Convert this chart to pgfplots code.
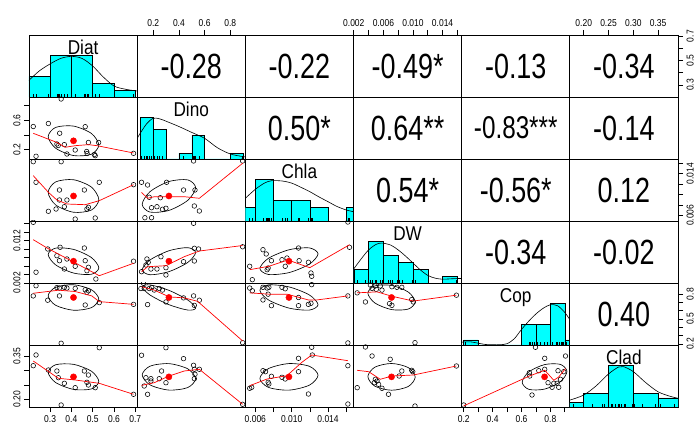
\documentclass[border=0pt]{standalone}
\usepackage{fontspec}
\setmainfont{Liberation Sans}
\usepackage{graphicx}
\usepackage{pgfplots}
\pgfplotsset{compat=1.18}
\definecolor{histc}{RGB}{0,255,255}
\definecolor{rred}{RGB}{255,0,0}
\newcommand\tk[1]{\scalebox{0.85}[1]{#1}}
\newcommand\cor[1]{\scalebox{0.77}[1]{\fontsize{35}{35}\selectfont #1}}
\newcommand\vn[1]{\scalebox{0.86}[1]{\fontsize{20}{20}\selectfont #1}}
\pgfplotsset{
  panel/.style={anchor=north west, width=108.17pt, height=62pt, scale only axis,
    xtick=\empty, ytick=\empty, clip marker paths=true, scaled ticks=false,
    axis line style={black, line width=0.75pt},
    tick style={black, line width=0.6pt}, tick align=outside, major tick length=5pt,
    ticklabel style={font=\fontsize{10}{10}\selectfont}},
  xDiat/.style={xmin=0.201,xmax=0.709}, yDiat/.style={ymin=0.201,ymax=0.709},
  xDino/.style={xmin=0.075,xmax=0.917}, yDino/.style={ymin=0.075,ymax=0.917},
  xChla/.style={xmin=0.0049,xmax=0.0168}, yChla/.style={ymin=0.0049,ymax=0.0168},
  xDW/.style={xmin=0.00196,xmax=0.01658}, yDW/.style={ymin=0.00196,ymax=0.01658},
  xCop/.style={xmin=0.186,xmax=0.935}, yCop/.style={ymin=0.186,ymax=0.935},
  xClad/.style={xmin=0.172,xmax=0.390}, yClad/.style={ymin=0.172,ymax=0.390},
  topx/.style={xtick pos=upper, xticklabel pos=upper},
  boty/.style={xtick pos=lower, xticklabel pos=lower},
  lefty/.style={ytick pos=left, yticklabel pos=left, yticklabel style={rotate=90, anchor=south}},
  righty/.style={ytick pos=right, yticklabel pos=right, yticklabel style={rotate=90, anchor=north}},
  pts/.style={only marks, mark=o, mark size=2.3pt, black, mark options={line width=0.55pt}},
  mn/.style={only marks, mark=*, mark size=3.1pt, rred},
  lo/.style={rred, line width=0.7pt, no markers},
  el/.style={black, line width=0.65pt, no markers, smooth cycle},
  hb/.style={ybar interval, fill=histc, draw=black, line width=0.5pt},
  dn/.style={black, line width=0.6pt, smooth, no markers},
  rg/.style={ycomb, black, line width=0.4pt, no markers},
}
\begin{document}
\begin{tikzpicture}
\useasboundingbox (0,0) rectangle (699pt,-435pt);
% ================= ROW 1
\begin{axis}[panel, at={(29pt,-35pt)}, xDiat, ymin=0, ymax=9]
\addplot[hb] coordinates {(0.2,3)(0.3,6)(0.4,6)(0.5,2)(0.6,1)(0.7,0)};
\addplot[dn] coordinates {(0.20,2.4)(0.25,3.8)(0.30,4.8)(0.35,5.6)(0.40,5.9)(0.45,5.6)(0.50,4.5)(0.55,2.9)(0.60,1.6)(0.65,1.15)(0.70,0.9)(0.72,0.85)};
\addplot[rg] coordinates {(0.221,0.45)(0.234,0.45)(0.289,0.45)(0.292,0.45)(0.332,0.45)(0.338,0.45)(0.344,0.45)(0.352,0.45)(0.367,0.45)(0.379,0.45)(0.418,0.45)(0.461,0.45)(0.465,0.45)(0.473,0.45)(0.48,0.45)(0.512,0.45)(0.531,0.45)(0.692,0.45)};
\node[anchor=base] at (rel axis cs:0.5,0.68) {\vn{Diat}};
\end{axis}
\begin{axis}[panel, at={(137.17pt,-35pt)}, xDino, yDiat, topx,
  xtick={0.2,0.4,0.6,0.8}, xticklabels={\tk{0.2},\tk{0.4},\tk{0.6},\tk{0.8}}]
\node at (rel axis cs:0.5,0.5) {\cor{-0.28}};
\end{axis}
\begin{axis}[panel, at={(245.33pt,-35pt)}, xChla, yDiat]
\node at (rel axis cs:0.5,0.5) {\cor{-0.22}};
\end{axis}
\begin{axis}[panel, at={(353.5pt,-35pt)}, xDW, yDiat, topx,
  xtick={0.002,0.004,0.006,0.008,0.010,0.012,0.014,0.016},
  xticklabels={\tk{0.002},,\tk{0.006},,\tk{0.010},,\tk{0.014},}]
\node at (rel axis cs:0.5,0.5) {\cor{-0.49*}};
\end{axis}
\begin{axis}[panel, at={(461.67pt,-35pt)}, xCop, yDiat]
\node at (rel axis cs:0.5,0.5) {\cor{-0.13}};
\end{axis}
\begin{axis}[panel, at={(569.83pt,-35pt)}, xClad, yDiat, topx, righty,
  xtick={0.20,0.25,0.30,0.35}, xticklabels={\tk{0.20},\tk{0.25},\tk{0.30},\tk{0.35}},
  ytick={0.3,0.4,0.5,0.6,0.7}, yticklabels={\tk{0.3},,\tk{0.5},,\tk{0.7}}]
\node at (rel axis cs:0.5,0.5) {\cor{-0.34}};
\end{axis}
% ================= ROW 2
\begin{axis}[panel, at={(29pt,-97pt)}, xDiat, yDino, lefty,
  ytick={0.2,0.4,0.6,0.8}, yticklabels={\tk{0.2},,\tk{0.6},}]
\addplot[pts] coordinates {(0.352,0.89)(0.221,0.516)(0.292,0.557)(0.345,0.425)(0.465,0.514)(0.332,0.279)(0.338,0.258)(0.528,0.299)(0.48,0.299)(0.418,0.197)(0.379,0.143)(0.472,0.177)(0.474,0.15)(0.508,0.136)(0.692,0.152)(0.234,0.112)(0.367,0.27)(0.512,0.12)};
\addplot[el] coordinates {(0.529,0.264)(0.494,0.422)(0.41,0.522)(0.326,0.504)(0.291,0.380)(0.326,0.222)(0.41,0.122)(0.494,0.140)};
\addplot[lo] coordinates {(0.221,0.424)(0.332,0.30)(0.371,0.234)(0.418,0.256)(0.48,0.27)(0.52,0.256)(0.692,0.157)};
\addplot[mn] coordinates {(0.41,0.322)};
\end{axis}
\begin{axis}[panel, at={(137.17pt,-97pt)}, xDino, ymin=0, ymax=10.5]
\addplot[hb] coordinates {(0.1,7)(0.2,5)(0.3,0)(0.4,1)(0.5,4)(0.6,0)(0.7,0)(0.8,1)(0.9,0)};
\addplot[dn] coordinates {(0.075,3.5)(0.1,4.4)(0.15,6.0)(0.2,6.9)(0.25,6.8)(0.3,6.4)(0.4,5.5)(0.5,4.5)(0.6,3.5)(0.7,1.9)(0.8,0.85)(0.9,0.4)(0.92,0.35)};
\addplot[rg] coordinates {(0.104,0.5)(0.11,0.5)(0.13,0.5)(0.143,0.5)(0.156,0.5)(0.169,0.5)(0.185,0.5)(0.208,0.5)(0.229,0.5)(0.247,0.5)(0.272,0.5)(0.299,0.5)(0.436,0.5)(0.514,0.5)(0.52,0.5)(0.525,0.5)(0.559,0.5)(0.896,0.5)};
\node[anchor=base] at (rel axis cs:0.5,0.68) {\vn{Dino}};
\end{axis}
\begin{axis}[panel, at={(245.33pt,-97pt)}, xChla, yDino]
\node at (rel axis cs:0.5,0.5) {\cor{0.50*}};
\end{axis}
\begin{axis}[panel, at={(353.5pt,-97pt)}, xDW, yDino]
\node at (rel axis cs:0.5,0.5) {\cor{0.64**}};
\end{axis}
\begin{axis}[panel, at={(461.67pt,-97pt)}, xCop, yDino]
\node at (rel axis cs:0.5,0.5) {\scalebox{0.9}{\cor{-0.83***}}};
\end{axis}
\begin{axis}[panel, at={(569.83pt,-97pt)}, xClad, yDino]
\node at (rel axis cs:0.5,0.5) {\cor{-0.14}};
\end{axis}
% ================= ROW 3
\begin{axis}[panel, at={(29pt,-159pt)}, xDiat, yChla]
\addplot[pts] coordinates {(0.221,0.01628)(0.352,0.01628)(0.234,0.01233)(0.531,0.01233)(0.344,0.01085)(0.461,0.01085)(0.379,0.00893)(0.344,0.00893)(0.48,0.00753)(0.473,0.0072)(0.367,0.00764)(0.328,0.0072)(0.292,0.00676)(0.418,0.00528)(0.512,0.00548)(0.692,0.01187)};
\addplot[el] coordinates {(0.529,0.00900)(0.494,0.01141)(0.41,0.01282)(0.326,0.01240)(0.291,0.01040)(0.326,0.00799)(0.41,0.00658)(0.494,0.00700)};
\addplot[lo] coordinates {(0.221,0.0136)(0.292,0.01041)(0.332,0.00893)(0.379,0.00816)(0.465,0.00803)(0.531,0.0088)(0.692,0.01187)};
\addplot[mn] coordinates {(0.41,0.0097)};
\end{axis}
\begin{axis}[panel, at={(137.17pt,-159pt)}, xDino, yChla]
\addplot[pts] coordinates {(0.514,0.01642)(0.109,0.01233)(0.156,0.01181)(0.304,0.01233)(0.436,0.01085)(0.525,0.01085)(0.169,0.00945)(0.255,0.00937)(0.187,0.00745)(0.229,0.00764)(0.272,0.00715)(0.299,0.00734)(0.52,0.00778)(0.559,0.00682)(0.135,0.00553)(0.187,0.00553)(0.896,0.01642)};
\addplot[el] coordinates {(0.530,0.01130)(0.469,0.01279)(0.322,0.01247)(0.175,0.01053)(0.114,0.00810)(0.175,0.00661)(0.322,0.00693)(0.469,0.00887)};
\addplot[lo] coordinates {(0.109,0.0104)(0.156,0.00926)(0.208,0.00956)(0.325,0.00956)(0.442,0.00956)(0.559,0.00926)(0.896,0.01598)};
\addplot[mn] coordinates {(0.322,0.0097)};
\end{axis}
\begin{axis}[panel, at={(245.33pt,-159pt)}, xChla, ymin=0, ymax=9]
\addplot[hb] coordinates {(0.004,2)(0.006,6)(0.008,3)(0.010,3)(0.012,2)(0.014,0)(0.016,2)(0.018,0)};
\addplot[dn] coordinates {(0.0049,3.3)(0.006,4.6)(0.007,5.5)(0.0078,5.85)(0.009,5.8)(0.010,5.5)(0.011,4.9)(0.012,4.25)(0.013,3.5)(0.014,2.8)(0.015,2.1)(0.016,1.6)(0.0168,1.35)};
\addplot[rg] coordinates {(0.00538,0.45)(0.00567,0.45)(0.00684,0.45)(0.0072,0.45)(0.0073,0.45)(0.00741,0.45)(0.00749,0.45)(0.00777,0.45)(0.00893,0.45)(0.00929,0.45)(0.00948,0.45)(0.01075,0.45)(0.01082,0.45)(0.01184,0.45)(0.0122,0.45)(0.01227,0.45)(0.01618,0.45)(0.01636,0.45)};
\node[anchor=base] at (rel axis cs:0.5,0.68) {\vn{Chla}};
\end{axis}
\begin{axis}[panel, at={(353.5pt,-159pt)}, xDW, yChla]
\node at (rel axis cs:0.5,0.5) {\cor{0.54*}};
\end{axis}
\begin{axis}[panel, at={(461.67pt,-159pt)}, xCop, yChla]
\node at (rel axis cs:0.5,0.5) {\cor{-0.56*}};
\end{axis}
\begin{axis}[panel, at={(569.83pt,-159pt)}, xClad, yChla, righty,
  ytick={0.006,0.008,0.010,0.012,0.014,0.016}, yticklabels={\tk{0.006},,,,\tk{0.014},}]
\node at (rel axis cs:0.5,0.5) {\cor{0.12}};
\end{axis}
% ================= ROW 4
\begin{axis}[panel, at={(29pt,-221pt)}, xDiat, yDW, lefty,
  ytick={0.002,0.004,0.006,0.008,0.010,0.012,0.014,0.016}, yticklabels={\tk{0.002},,,,,\tk{0.012},,}]
\addplot[pts] coordinates {(0.221,0.01627)(0.347,0.01038)(0.461,0.01021)(0.289,0.00998)(0.332,0.0084)(0.344,0.00722)(0.379,0.00762)(0.418,0.0059)(0.465,0.00722)(0.367,0.00526)(0.48,0.00566)(0.473,0.00486)(0.515,0.0029)(0.234,0.0045)(0.692,0.0071)};
\addplot[el] coordinates {(0.529,0.00553)(0.494,0.00796)(0.41,0.00989)(0.326,0.01018)(0.291,0.00867)(0.326,0.00624)(0.41,0.00431)(0.494,0.00402)};
\addplot[lo] coordinates {(0.221,0.01217)(0.292,0.01004)(0.418,0.0067)(0.531,0.00368)(0.692,0.00661)};
\addplot[mn] coordinates {(0.41,0.0071)};
\end{axis}
\begin{axis}[panel, at={(137.17pt,-221pt)}, xDino, yDW]
\addplot[pts] coordinates {(0.514,0.01604)(0.52,0.01014)(0.553,0.00998)(0.52,0.00715)(0.436,0.00698)(0.26,0.00816)(0.151,0.00762)(0.161,0.00684)(0.182,0.00526)(0.229,0.00526)(0.299,0.00557)(0.299,0.00385)(0.109,0.00462)(0.896,0.0105)(0.143,0.0062)};
\addplot[el] coordinates {(0.530,0.00915)(0.469,0.01029)(0.322,0.00956)(0.175,0.00739)(0.114,0.00505)(0.175,0.00391)(0.322,0.00464)(0.469,0.00681)};
\addplot[lo] coordinates {(0.109,0.00462)(0.156,0.0058)(0.299,0.00604)(0.441,0.00816)(0.559,0.0095)(0.896,0.0108)};
\addplot[mn] coordinates {(0.322,0.0071)};
\end{axis}
\begin{axis}[panel, at={(245.33pt,-221pt)}, xChla, yDW]
\addplot[pts] coordinates {(0.01618,0.01634)(0.01636,0.01038)(0.01075,0.01021)(0.00684,0.00981)(0.0072,0.0088)(0.00777,0.00722)(0.00893,0.00745)(0.00948,0.00785)(0.01082,0.00722)(0.01184,0.00684)(0.00929,0.0059)(0.00538,0.0059)(0.00741,0.0055)(0.0073,0.0051)(0.01212,0.00432)(0.0122,0.00354)(0.00567,0.00274)};
\addplot[el] coordinates {(0.0129,0.00883)(0.01196,0.01023)(0.0097,0.00979)(0.00744,0.00778)(0.0065,0.00537)(0.00744,0.00397)(0.0097,0.00441)(0.01196,0.00642)};
\addplot[lo] coordinates {(0.00538,0.0051)(0.00748,0.0059)(0.00957,0.00738)(0.01199,0.00557)(0.01636,0.01098)};
\addplot[mn] coordinates {(0.0097,0.0071)};
\end{axis}
\begin{axis}[panel, at={(353.5pt,-221pt)}, xDW, ymin=0, ymax=9]
\addplot[hb] coordinates {(0.002,2)(0.004,6)(0.006,4)(0.008,3)(0.010,2)(0.012,0)(0.014,1)(0.016,0)};
\addplot[dn] coordinates {(0.00196,2.0)(0.003,3.5)(0.004,4.8)(0.005,5.6)(0.0058,5.8)(0.007,5.5)(0.008,4.8)(0.009,3.9)(0.010,2.9)(0.011,1.9)(0.012,1.1)(0.013,0.7)(0.014,0.55)(0.015,0.6)(0.016,0.65)(0.0166,0.65)};
\addplot[rg] coordinates {(0.00246,0.45)(0.00357,0.45)(0.00424,0.45)(0.00447,0.45)(0.00491,0.45)(0.00504,0.45)(0.00558,0.45)(0.00581,0.45)(0.00669,0.45)(0.00692,0.45)(0.00715,0.45)(0.00782,0.45)(0.00813,0.45)(0.00849,0.45)(0.00983,0.45)(0.01005,0.45)(0.01027,0.45)(0.01587,0.45)};
\node[anchor=base] at (rel axis cs:0.5,0.68) {\vn{DW}};
\end{axis}
\begin{axis}[panel, at={(461.67pt,-221pt)}, xCop, yDW]
\node at (rel axis cs:0.5,0.5) {\cor{-0.34}};
\end{axis}
\begin{axis}[panel, at={(569.83pt,-221pt)}, xClad, yDW]
\node at (rel axis cs:0.5,0.5) {\cor{-0.02}};
\end{axis}
% ================= ROW 5
\begin{axis}[panel, at={(29pt,-283pt)}, xDiat, yCop]
\addplot[pts] coordinates {(0.234,0.902)(0.332,0.88)(0.344,0.874)(0.367,0.883)(0.379,0.874)(0.418,0.87)(0.465,0.853)(0.48,0.841)(0.221,0.779)(0.344,0.779)(0.289,0.727)(0.473,0.821)(0.531,0.698)(0.465,0.669)(0.692,0.677)(0.352,0.207)};
\addplot[el] coordinates {(0.529,0.740)(0.494,0.854)(0.41,0.914)(0.326,0.883)(0.291,0.780)(0.326,0.666)(0.41,0.606)(0.494,0.637)};
\addplot[lo] coordinates {(0.221,0.811)(0.34,0.848)(0.418,0.832)(0.496,0.779)(0.531,0.71)(0.692,0.677)};
\addplot[mn] coordinates {(0.41,0.76)};
\end{axis}
\begin{axis}[panel, at={(137.17pt,-283pt)}, xDino, yCop]
\addplot[pts] coordinates {(0.124,0.932)(0.104,0.868)(0.13,0.868)(0.169,0.868)(0.208,0.85)(0.247,0.868)(0.272,0.85)(0.156,0.674)(0.299,0.706)(0.436,0.755)(0.514,0.779)(0.559,0.727)(0.52,0.665)(0.896,0.214)(0.188,0.88)};
\addplot[el] coordinates {(0.530,0.631)(0.469,0.730)(0.322,0.8465)(0.175,0.912)(0.114,0.889)(0.175,0.790)(0.322,0.6735)(0.469,0.608)};
\addplot[lo] coordinates {(0.109,0.89)(0.208,0.849)(0.325,0.767)(0.442,0.755)(0.545,0.714)(0.896,0.235)};
\addplot[mn] coordinates {(0.322,0.76)};
\end{axis}
\begin{axis}[panel, at={(245.33pt,-283pt)}, xChla, yCop]
\addplot[pts] coordinates {(0.00538,0.874)(0.00684,0.883)(0.0073,0.874)(0.00749,0.883)(0.00893,0.883)(0.00929,0.865)(0.0122,0.915)(0.00567,0.841)(0.00741,0.80)(0.00684,0.73)(0.00777,0.661)(0.01075,0.76)(0.01075,0.661)(0.01184,0.677)(0.01212,0.69)(0.01618,0.779)(0.01618,0.211)};
\addplot[el] coordinates {(0.0129,0.673)(0.01196,0.7895)(0.0097,0.888)(0.00744,0.912)(0.0065,0.847)(0.00744,0.7306)(0.0097,0.632)(0.01196,0.608)};
\addplot[lo] coordinates {(0.00538,0.816)(0.00749,0.80)(0.00948,0.80)(0.01184,0.73)(0.01275,0.73)(0.01618,0.779)};
\addplot[mn] coordinates {(0.0097,0.76)};
\end{axis}
\begin{axis}[panel, at={(353.5pt,-283pt)}, xDW, yCop]
\addplot[pts] coordinates {(0.00424,0.911)(0.00491,0.899)(0.00558,0.899)(0.00447,0.87)(0.00504,0.858)(0.00581,0.849)(0.00246,0.816)(0.00715,0.89)(0.00782,0.883)(0.00849,0.883)(0.00357,0.706)(0.00683,0.686)(0.00715,0.665)(0.00983,0.735)(0.01005,0.706)(0.01587,0.788)(0.01027,0.214)};
\addplot[el] coordinates {(0.0103,0.707)(0.00936,0.826)(0.0071,0.906)(0.00484,0.900)(0.0039,0.813)(0.00484,0.694)(0.0071,0.614)(0.00936,0.620)};
\addplot[lo] coordinates {(0.00246,0.816)(0.00514,0.828)(0.00715,0.775)(0.01005,0.717)(0.01587,0.788)};
\addplot[mn] coordinates {(0.0071,0.76)};
\end{axis}
\begin{axis}[panel, at={(461.67pt,-283pt)}, xCop, ymin=0, ymax=12]
\addplot[hb] coordinates {(0.2,1)(0.3,0)(0.4,0)(0.5,0)(0.6,4)(0.7,4)(0.8,8)(0.9,1)(1.0,0)};
\addplot[dn] coordinates {(0.186,0.5)(0.2,0.6)(0.25,0.6)(0.3,0.35)(0.35,0.1)(0.4,0.05)(0.45,0.05)(0.5,0.25)(0.55,1.2)(0.6,3.0)(0.65,4.6)(0.7,6.0)(0.75,7.1)(0.8,7.8)(0.85,7.6)(0.9,6.3)(0.94,4.7)};
\addplot[rg] coordinates {(0.207,0.6)(0.655,0.6)(0.661,0.6)(0.673,0.6)(0.69,0.6)(0.706,0.6)(0.727,0.6)(0.76,0.6)(0.779,0.6)(0.80,0.6)(0.816,0.6)(0.841,0.6)(0.849,0.6)(0.858,0.6)(0.874,0.6)(0.883,0.6)(0.89,0.6)(0.911,0.6)};
\node[anchor=base] at (rel axis cs:0.5,0.68) {\vn{Cop}};
\end{axis}
\begin{axis}[panel, at={(569.83pt,-283pt)}, xClad, yCop, righty,
  ytick={0.2,0.3,0.4,0.5,0.6,0.7,0.8}, yticklabels={\tk{0.2},,,\tk{0.5},,,\tk{0.8}}]
\node at (rel axis cs:0.5,0.5) {\cor{0.40}};
\end{axis}
% ================= ROW 6
\begin{axis}[panel, at={(29pt,-345pt)}, xDiat, yClad, boty, lefty,
  xtick={0.3,0.4,0.5,0.6,0.7}, xticklabels={\tk{0.3},\tk{0.4},\tk{0.5},\tk{0.6},\tk{0.7}},
  ytick={0.20,0.25,0.30,0.35}, yticklabels={\tk{0.20},,,\tk{0.35}}]
\addplot[pts] coordinates {(0.531,0.3805)(0.234,0.355)(0.221,0.3172)(0.292,0.302)(0.332,0.2986)(0.461,0.2986)(0.339,0.275)(0.48,0.2845)(0.367,0.2553)(0.418,0.2399)(0.473,0.2588)(0.48,0.2494)(0.512,0.2399)(0.352,0.179)(0.692,0.2167)};
\addplot[el] coordinates {(0.529,0.262)(0.494,0.298)(0.41,0.322)(0.326,0.3205)(0.291,0.294)(0.326,0.258)(0.41,0.234)(0.494,0.2355)};
\addplot[lo] coordinates {(0.221,0.3337)(0.339,0.2729)(0.418,0.267)(0.531,0.2553)(0.692,0.2167)};
\addplot[mn] coordinates {(0.41,0.278)};
\end{axis}
\begin{axis}[panel, at={(137.17pt,-345pt)}, xDino, yClad]
\addplot[pts] coordinates {(0.299,0.3805)(0.109,0.354)(0.436,0.342)(0.514,0.3187)(0.559,0.3046)(0.52,0.3046)(0.525,0.287)(0.52,0.2715)(0.265,0.2986)(0.143,0.275)(0.182,0.2715)(0.182,0.2634)(0.247,0.2715)(0.299,0.2574)(0.13,0.2458)(0.156,0.2167)(0.896,0.1815)};
\addplot[el] coordinates {(0.530,0.2714)(0.469,0.3062)(0.322,0.3245)(0.175,0.3156)(0.114,0.2846)(0.175,0.2498)(0.322,0.2315)(0.469,0.2404)};
\addplot[lo] coordinates {(0.109,0.248)(0.208,0.2574)(0.324,0.281)(0.441,0.2986)(0.559,0.3046)(0.896,0.1815)};
\addplot[mn] coordinates {(0.322,0.278)};
\end{axis}
\begin{axis}[panel, at={(245.33pt,-345pt)}, xChla, yClad, boty,
  xtick={0.006,0.008,0.010,0.012,0.014,0.016}, xticklabels={\tk{0.006},,\tk{0.010},,\tk{0.014},}]
\addplot[pts] coordinates {(0.0122,0.382)(0.01227,0.3548)(0.01075,0.3432)(0.01618,0.3172)(0.00684,0.2996)(0.00712,0.2961)(0.01075,0.2961)(0.00777,0.2799)(0.00893,0.2764)(0.00929,0.2705)(0.00741,0.2589)(0.00749,0.2529)(0.0056,0.2413)(0.00538,0.2378)(0.01184,0.2177)(0.01618,0.1825)};
\addplot[el] coordinates {(0.0129,0.2836)(0.01196,0.315)(0.0097,0.3247)(0.00744,0.307)(0.0065,0.2724)(0.00744,0.241)(0.0097,0.2313)(0.01196,0.249)};
\addplot[lo] coordinates {(0.00538,0.2469)(0.0073,0.2705)(0.00948,0.2822)(0.01112,0.3291)(0.0122,0.3548)(0.01618,0.3348)};
\addplot[mn] coordinates {(0.0097,0.278)};
\end{axis}
\begin{axis}[panel, at={(353.5pt,-345pt)}, xDW, yClad]
\addplot[pts] coordinates {(0.00357,0.383)(0.00447,0.3513)(0.00692,0.3397)(0.00849,0.2986)(0.00983,0.301)(0.00997,0.2961)(0.00491,0.2694)(0.00514,0.2634)(0.00478,0.2574)(0.00535,0.2518)(0.00581,0.2378)(0.00669,0.2167)(0.00246,0.2399)(0.01587,0.3162)(0.01027,0.1755)(0.00813,0.281)};
\addplot[el] coordinates {(0.0103,0.2771)(0.00936,0.3106)(0.0071,0.325)(0.00484,0.3119)(0.0039,0.2789)(0.00484,0.2454)(0.0071,0.231)(0.00936,0.2441)};
\addplot[lo] coordinates {(0.00246,0.301)(0.00402,0.2961)(0.00558,0.2694)(0.00715,0.281)(0.01005,0.2845)(0.01587,0.3162)};
\addplot[mn] coordinates {(0.0071,0.278)};
\end{axis}
\begin{axis}[panel, at={(461.67pt,-345pt)}, xCop, yClad, boty,
  xtick={0.2,0.3,0.4,0.5,0.6,0.7,0.8,0.9}, xticklabels={\tk{0.2},,\tk{0.4},,\tk{0.6},,\tk{0.8},}]
\addplot[pts] coordinates {(0.697,0.382)(0.761,0.3432)(0.905,0.3513)(0.655,0.2926)(0.72,0.2996)(0.761,0.3046)(0.853,0.2996)(0.784,0.2574)(0.824,0.2553)(0.847,0.2553)(0.87,0.2694)(0.812,0.2413)(0.858,0.2413)(0.673,0.2142)(0.2,0.179)(0.893,0.2961)(0.657,0.281)};
\addplot[el] coordinates {(0.915,0.2968)(0.8696,0.3218)(0.76,0.3211)(0.6504,0.2952)(0.605,0.2592)(0.6504,0.2342)(0.76,0.2349)(0.8696,0.2608)};
\addplot[lo] coordinates {(0.2,0.176)(0.655,0.281)(0.761,0.3011)(0.824,0.2659)(0.858,0.2776)(0.905,0.3072)};
\addplot[mn] coordinates {(0.76,0.278)};
\end{axis}
\begin{axis}[panel, at={(569.83pt,-345pt)}, xClad, ymin=0, ymax=13.5]
\addplot[hb] coordinates {(0.15,1)(0.20,3)(0.25,9)(0.30,3)(0.35,2)(0.40,0)};
\addplot[dn] coordinates {(0.172,1.5)(0.20,2.6)(0.225,4.6)(0.25,7.2)(0.27,8.7)(0.28,8.8)(0.30,7.7)(0.325,5.3)(0.35,3.3)(0.375,2.3)(0.39,1.9)};
\addplot[rg] coordinates {(0.179,0.65)(0.217,0.65)(0.238,0.65)(0.2415,0.65)(0.255,0.65)(0.2574,0.65)(0.2634,0.65)(0.2694,0.65)(0.2715,0.65)(0.2764,0.65)(0.281,0.65)(0.2845,0.65)(0.2986,0.65)(0.302,0.65)(0.3172,0.65)(0.3432,0.65)(0.355,0.65)(0.382,0.65)};
\node[anchor=base] at (rel axis cs:0.5,0.68) {\vn{Clad}};
\end{axis}
\end{tikzpicture}
\end{document}
